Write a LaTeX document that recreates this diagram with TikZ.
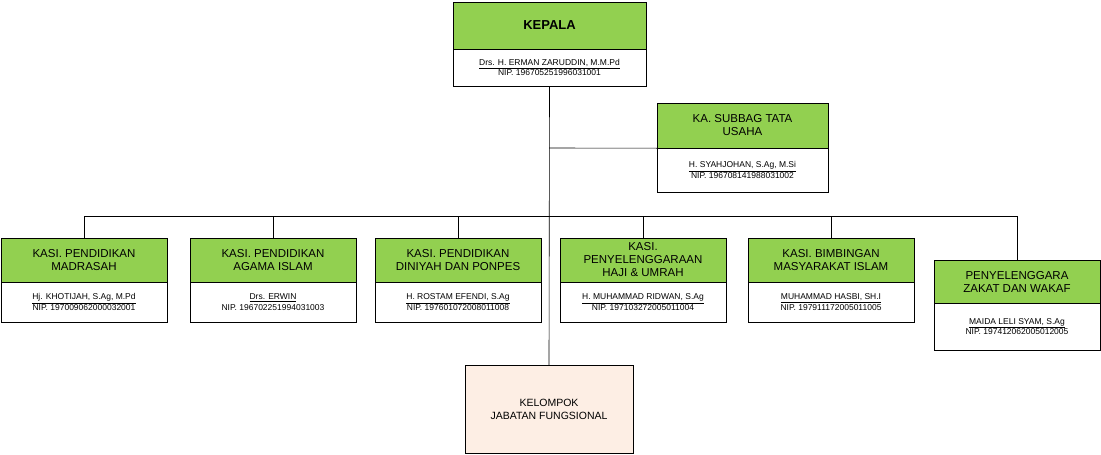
\documentclass[tikz,border=0pt]{standalone}
\usepackage{fontspec}
\setmainfont{Liberation Sans}
\definecolor{gr}{HTML}{92D050}
\definecolor{peach}{HTML}{FDEEE4}
\begin{document}
\begin{tikzpicture}[x=1pt,y=-1pt,
  hd/.style={draw=black,fill=gr,minimum width=#1,align=center,font=\fontsize{11.5}{13}\selectfont,inner sep=1pt},
  bd/.style={draw=black,fill=white,align=center,font=\fontsize{8.5}{10.5}\selectfont,inner sep=1pt},
  ln/.style={draw=black,line width=0.6pt}]
\useasboundingbox (0,0) rectangle (1101,455);
% KEPALA
\node[hd=193pt,minimum height=47pt,font=\bfseries\fontsize{13}{15}\selectfont] (k) at (549.5,25.5) {KEPALA};
\node[bd,minimum width=193pt,minimum height=37pt] (kb) at (549.5,67.5) {\underline{Drs. H. ERMAN ZARUDDIN, M.M.Pd}\\NIP. 196705251996031001};
% Subbag
\node[hd=171pt,minimum height=45pt] (s) at (742.5,125.5) {KA. SUBBAG TATA\\USAHA};
\node[bd,minimum width=171pt,minimum height=44pt] (sb) at (742.5,170) {\underline{H. SYAHJOHAN, S.Ag, M.Si}\\NIP. 196708141988031002};
% Kelompok
\node[draw=black,fill=peach,minimum width=168pt,minimum height=88pt,align=center,font=\fontsize{10.5}{13}\selectfont] (kel) at (549,409) {KELOMPOK\\JABATAN FUNGSIONAL};
\coordinate (bus) at (549,216);
\coordinate (sj) at (549,148);
\draw[ln] (kb.south) -- (kel.north);
\draw[ln] (sj) -- (s.south west);
% Row boxes
\foreach \n/\cx/\t/\nm/\nip in {
 a/84/{KASI. PENDIDIKAN\\MADRASAH}/{Hj. KHOTIJAH, S.Ag, M.Pd}/197009062000032001,
 b/273/{KASI. PENDIDIKAN\\AGAMA ISLAM}/{Drs. ERWIN}/196702251994031003,
 c/458/{KASI. PENDIDIKAN\\DINIYAH DAN PONPES}/{H. ROSTAM EFENDI, S.Ag}/197601072008011008,
 d/643/{KASI.\\PENYELENGGARAAN\\HAJI \& UMRAH}/{H. MUHAMMAD RIDWAN, S.Ag}/197103272005011004,
 e/831/{KASI. BIMBINGAN\\MASYARAKAT ISLAM}/{MUHAMMAD HASBI, SH.I}/197911172005011005}{
  \node[hd=166pt,minimum height=44pt] (\n) at (\cx,260) {\t};
  \node[bd,minimum width=166pt,minimum height=40pt] (\n b) at (\cx,302) {\underline{\nm}\\NIP. \nip};
  \draw[ln] (\n.north) |- (bus);
}
\node[hd=166pt,minimum height=43pt] (f) at (1017,281.5) {PENYELENGGARA\\ZAKAT DAN WAKAF};
\node[bd,minimum width=166pt,minimum height=47pt] (fb) at (1017,326.5) {\underline{MAIDA LELI SYAM, S.Ag}\\NIP. 197412062005012005};
\draw[ln] (f.north) |- (bus);
\end{tikzpicture}
\end{document}
